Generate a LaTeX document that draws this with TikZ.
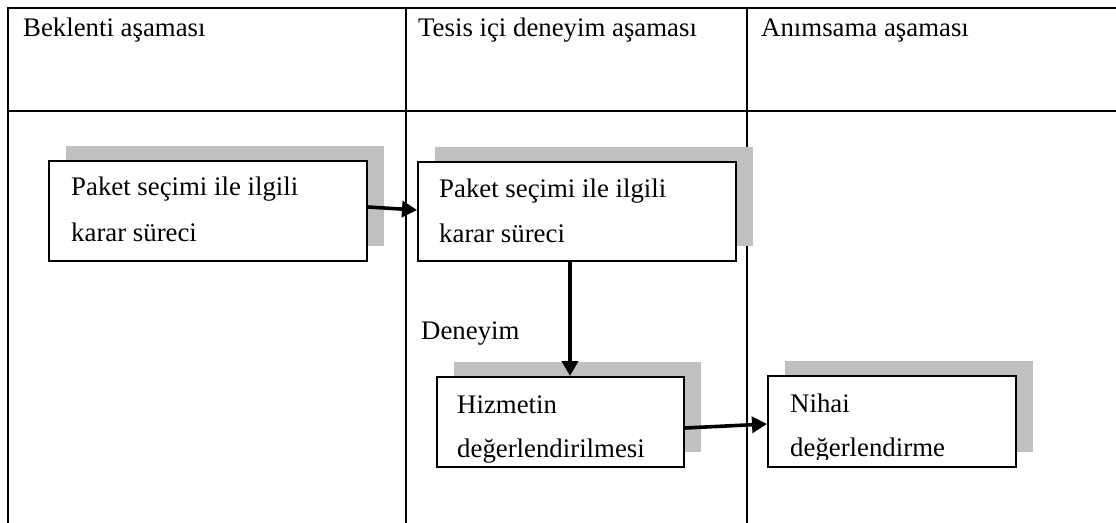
\documentclass[tikz,border=0pt]{standalone}
\usepackage{fontspec}
\setmainfont{Liberation Serif}
\usetikzlibrary{shadows,arrows.meta}

\definecolor{shadowgray}{RGB}{192,192,192}

\tikzset{
  gridline/.style={line width=2.6pt, line cap=rect},
  stagebox/.style={draw=black, line width=2pt, fill=white, inner sep=0pt,
    general shadow={fill=shadowgray, shadow xshift=16.5pt, shadow yshift=15.5pt}},
  lbl/.style={inner sep=0pt, anchor=base west, font=\fontsize{26.8}{26.8}\selectfont},
  boxtext/.style={inner sep=0pt, anchor=base west, align=left},
  flow/.style={line width=3.6pt, -{Triangle[length=15pt,width=16pt]}}
}

\begin{document}
\begin{tikzpicture}[x=1pt,y=-1pt]
  \useasboundingbox (0,0) rectangle (1116,522);

  % table grid
  \coordinate (tl) at (8,8);
  \coordinate (tr) at (1116,8);
  \coordinate (ml) at (8,111);
  \coordinate (mr) at (1116,111);
  \coordinate (bl) at (8,522);
  \coordinate (c1t) at (406,8);
  \coordinate (c1b) at (406,522);
  \coordinate (c2t) at (747,8);
  \coordinate (c2b) at (747,522);
  \draw[gridline] (tl) -- (tr);
  \draw[gridline] (ml) -- (mr);
  \draw[gridline] (tl) -- (bl);
  \draw[gridline] (c1t) -- (c1b);
  \draw[gridline] (c2t) -- (c2b);

  % column headings
  \node[lbl] (h1) at (23,36) {Beklenti aşaması};
  \node[lbl] (h2) at (418,36) {Tesis içi deneyim aşaması};
  \node[lbl] (h3) at (761,36) {Anımsama aşaması};

  % process boxes
  \node[stagebox, minimum width=318pt, minimum height=100pt] (b1) at (208,211) {};
  \node[stagebox, minimum width=318pt, minimum height=99pt] (b2) at (577,211.5) {};
  \node[stagebox, minimum width=247pt, minimum height=90pt] (b3) at (560.5,422) {};
  \node[stagebox, minimum width=248pt, minimum height=91pt] (b4) at (892,421.5) {};

  % box texts (anchored on the baseline of the last line)
  \node[boxtext, font=\fontsize{26.8}{46}\selectfont] (t1) at (71,241)
    {Paket seçimi ile ilgili\\karar süreci};
  \node[boxtext, font=\fontsize{26.8}{45}\selectfont] (t2) at (439,242)
    {Paket seçimi ile ilgili\\karar süreci};
  \begin{scope}
    \clip (b3.north west) rectangle ([yshift=6pt]b3.south east);
    \node[boxtext, font=\fontsize{26.8}{44}\selectfont] (t3) at (457,457)
      {Hizmetin\\değerlendirilmesi};
  \end{scope}
  \begin{scope}
    \clip (b4.north west) rectangle ([yshift=9pt]b4.south east);
    \node[boxtext, font=\fontsize{26.8}{44}\selectfont] (t4) at (790,456)
      {Nihai\\değerlendirme};
  \end{scope}

  \node[lbl] (dn) at (421,339) {Deneyim};

  % connectors
  \draw[flow] ([yshift=4pt]b1.east) -- ([yshift=1.5pt]b2.west);
  \draw[flow] (b2.south -| 570,0) -- (b3.north -| 570,0);
  \draw[flow] ([yshift=-6pt]b3.east) -- ([yshift=-2.5pt]b4.west);
\end{tikzpicture}
\end{document}
